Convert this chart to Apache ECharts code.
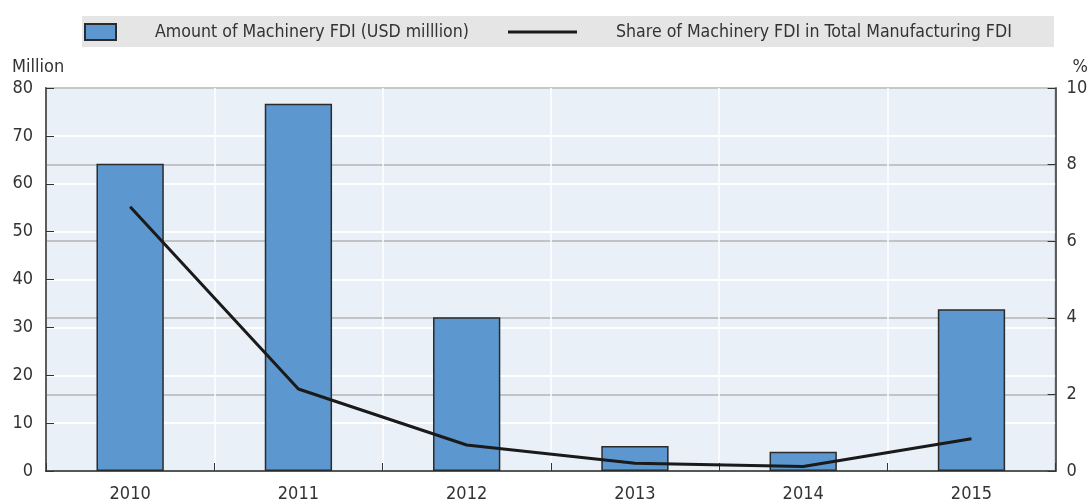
<!DOCTYPE html>
<html>
<head>
<meta charset="utf-8">
<script src="https://cdn.jsdelivr.net/npm/echarts@6/dist/echarts.min.js"></script>
<style>
  html, body { margin: 0; padding: 0; background: #fff; }
  #chart { width: 1091px; height: 504px; }
</style>
</head>
<body>
<div id="chart"></div>
<script>
  // data
  var years = ['2010', '2011', '2012', '2013', '2014', '2015'];
  var amountFdi = [64.2, 76.7, 32.1, 5.2, 4.0, 33.8];      // USD million
  var shareFdi = [6.9, 2.14, 0.68, 0.2, 0.12, 0.84];        // %
  var amountName = 'Amount of Machinery FDI (USD milllion)';
  var shareName = 'Share of Machinery FDI in Total Manufacturing FDI';

  var font = '"Liberation Sans Narrow", "DejaVu Sans Condensed", sans-serif';
  var textColor = '#333';
  var fs = 18;

  var chart = echarts.init(document.getElementById('chart'));

  var option = {
    animation: false,
    textStyle: { fontFamily: font, color: textColor },
    graphic: [{
      type: 'rect',
      left: 82, top: 16,
      shape: { width: 972, height: 31 },
      style: { fill: '#e5e5e5' },
      z: -1
    }],
    legend: [{
      data: [{ name: amountName, icon: 'rect' }],
      left: 84, top: 23, padding: 0,
      itemWidth: 31, itemHeight: 16,
      textStyle: { fontFamily: font, fontSize: 17.6, color: textColor, padding: [0, 0, 0, 34] }
    }, {
      data: [{ name: shareName, icon: 'rect' }],
      left: 508, top: 23, padding: 0,
      itemWidth: 69, itemHeight: 3,
      textStyle: { fontFamily: font, fontSize: 17.6, color: textColor, padding: [0, 0, 0, 34] }
    }],
    grid: {
      left: 46, right: 34, top: 88, bottom: 33,
      show: true,
      backgroundColor: '#eaf0f8',
      borderColor: '#333',
      borderWidth: 1.5
    },
    xAxis: {
      type: 'category',
      data: years,
      axisLine: { lineStyle: { color: '#333', width: 1.5 } },
      axisTick: { show: true, inside: true, length: 8, lineStyle: { color: '#333' } },
      axisLabel: { fontFamily: font, fontSize: fs, color: textColor, margin: 14 },
      splitLine: { show: true, lineStyle: { color: '#fff', width: 1.5 } }
    },
    yAxis: [{
      type: 'value',
      min: 0, max: 80, interval: 10,
      name: 'Million',
      nameLocation: 'end',
      nameGap: 12,
      nameTextStyle: { fontFamily: font, fontSize: fs, color: textColor, align: 'left', padding: [0, 0, 0, -34] },
      axisLine: { show: true, lineStyle: { color: '#333', width: 1.5 } },
      axisTick: { show: true, inside: true, length: 8, lineStyle: { color: '#333' } },
      axisLabel: { fontFamily: font, fontSize: fs, color: textColor, margin: 13 },
      splitLine: { show: true, lineStyle: { color: '#fff', width: 2 } }
    }, {
      type: 'value',
      min: 0, max: 10, interval: 2,
      name: '%',
      nameLocation: 'end',
      nameGap: 12,
      nameTextStyle: { fontFamily: font, fontSize: fs, color: textColor, align: 'left', padding: [0, 0, 0, 17] },
      axisLine: { show: true, lineStyle: { color: '#333', width: 1.5 } },
      axisTick: { show: true, inside: true, length: 8, lineStyle: { color: '#333' } },
      axisLabel: { fontFamily: font, fontSize: fs, color: textColor, margin: 11 },
      splitLine: { show: true, lineStyle: { color: '#b4b4b4', width: 1.5 } }
    }],
    series: [{
      name: amountName,
      type: 'bar',
      yAxisIndex: 0,
      data: amountFdi,
      barWidth: '40%',
      itemStyle: { color: '#5d97cf', borderColor: '#2b2b2b', borderWidth: 1.5 },
      z: 3
    }, {
      name: shareName,
      type: 'line',
      yAxisIndex: 1,
      data: shareFdi,
      symbol: 'none',
      lineStyle: { color: '#1a1a1a', width: 3 },
      itemStyle: { color: '#1a1a1a' },
      z: 4
    }]
  };

  chart.setOption(option);
</script>
</body>
</html>
